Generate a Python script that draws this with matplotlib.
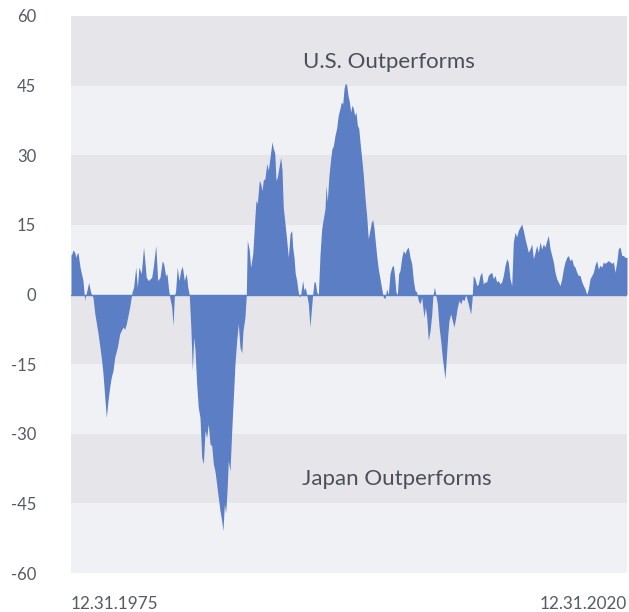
import matplotlib
matplotlib.use("Agg")
import matplotlib.pyplot as plt
import numpy as np

# Years elapsed since 12.31.1975
years_since_start = [
    0.00, 0.08, 0.16, 0.30, 0.40, 0.49, 0.57, 0.73, 0.97, 1.11, 1.16, 1.30, 1.43, 1.59, 1.78, 1.92,
    2.19, 2.45, 2.59, 2.73, 2.86, 2.99, 3.13, 3.26, 3.40, 3.54, 3.75, 3.94, 4.21, 4.35, 4.48, 4.75,
    4.94, 5.07, 5.24, 5.37, 5.50, 5.69, 5.87, 5.95, 6.09, 6.26, 6.53, 6.66, 6.86, 7.02, 7.20, 7.39,
    7.50, 7.66, 7.77, 7.88, 7.99, 8.15, 8.26, 8.36, 8.47, 8.60, 8.74, 8.88, 9.01, 9.17, 9.33, 9.45,
    9.57, 9.71, 9.82, 9.93, 10.04, 10.17, 10.30, 10.44, 10.58, 10.71, 10.85, 10.98, 11.11, 11.25,
    11.39, 11.52, 11.65, 11.79, 11.92, 12.06, 12.20, 12.30, 12.41, 12.52, 12.63, 12.73, 12.87, 13.01,
    13.14, 13.27, 13.41, 13.54, 13.68, 13.82, 13.92, 14.08, 14.19, 14.27, 14.43, 14.54, 14.71, 14.87,
    14.97, 15.08, 15.24, 15.35, 15.46, 15.56, 15.70, 15.84, 15.97, 16.11, 16.27, 16.37, 16.49, 16.59,
    16.70, 16.84, 16.97, 17.08, 17.18, 17.32, 17.46, 17.59, 17.73, 17.86, 17.94, 18.05, 18.15, 18.27,
    18.37, 18.48, 18.59, 18.75, 18.86, 18.96, 19.08, 19.21, 19.34, 19.45, 19.56, 19.67, 19.77, 19.89,
    20.02, 20.15, 20.29, 20.42, 20.56, 20.64, 20.74, 20.88, 21.02, 21.12, 21.23, 21.37, 21.50, 21.63,
    21.77, 21.88, 21.99, 22.10, 22.20, 22.31, 22.42, 22.53, 22.64, 22.74, 22.85, 22.96, 23.07, 23.17,
    23.29, 23.39, 23.53, 23.66, 23.80, 23.93, 24.06, 24.20, 24.31, 24.42, 24.52, 24.63, 24.74, 24.87,
    25.01, 25.15, 25.28, 25.41, 25.55, 25.68, 25.82, 25.96, 26.09, 26.20, 26.30, 26.41, 26.52, 26.63,
    26.77, 26.90, 27.03, 27.17, 27.30, 27.44, 27.58, 27.71, 27.84, 27.98, 28.11, 28.25, 28.39, 28.47,
    28.57, 28.68, 28.79, 28.92, 29.06, 29.20, 29.28, 29.41, 29.52, 29.65, 29.79, 29.92, 30.05, 30.19,
    30.27, 30.38, 30.49, 30.59, 30.73, 30.86, 31.00, 31.14, 31.27, 31.40, 31.54, 31.67, 31.81, 31.95,
    32.08, 32.21, 32.35, 32.46, 32.56, 32.70, 32.84, 32.97, 33.10, 33.24, 33.37, 33.51, 33.64, 33.77,
    33.91, 34.05, 34.18, 34.32, 34.45, 34.58, 34.72, 34.86, 34.99, 35.13, 35.27, 35.39, 35.53, 35.67,
    35.80, 35.94, 36.07, 36.20, 36.34, 36.48, 36.61, 36.75, 36.88, 37.01, 37.15, 37.29, 37.42, 37.56,
    37.69, 37.82, 37.96, 38.10, 38.23, 38.36, 38.50, 38.63, 38.77, 38.91, 39.04, 39.17, 39.31, 39.44,
    39.58, 39.72, 39.85, 39.98, 40.12, 40.25, 40.39, 40.53, 40.66, 40.79, 40.93, 41.06, 41.20, 41.34,
    41.47, 41.60, 41.74, 41.87, 42.01, 42.15, 42.28, 42.41, 42.55, 42.68, 42.82, 42.96, 43.09, 43.22,
    43.36, 43.49, 43.63, 43.77, 43.90, 44.03, 44.17, 44.30, 44.44, 44.58, 44.71, 44.84, 45.00,
]

# Relative performance, U.S. minus Japan (percent)
relative_perf = [
    8.5, 8.8, 9.6, 9.1, 8.0, 8.8, 9.0, 5.9, 3.0, -1.3, -0.5, 1.0, 2.6, 0.5, -0.6, -4.0,
    -8.4, -13.5, -17.0, -22.0, -26.5, -22.9, -20.0, -17.8, -16.4, -13.5, -11.4, -8.5, -7.0, -7.5, -6.3, -2.7,
    0.5, 1.6, 5.9, 1.6, 5.9, 4.5, 10.2, 8.0, 3.7, 3.0, 3.7, 5.9, 10.6, 3.0, 3.7, 7.3,
    6.6, 4.0, 4.5, 1.5, -0.6, -2.7, -6.7, -0.6, 0.9, 5.9, 3.0, 5.2, 6.1, 3.0, 4.5, 1.6,
    0.0, -7.8, -16.4, -9.2, -12.0, -19.2, -24.3, -26.5, -35.1, -36.5, -29.3, -30.8, -27.9, -32.2,
    -32.6, -36.5, -38.0, -40.9, -43.7, -46.6, -48.8, -50.9, -45.2, -47.0, -42.3, -35.8, -38.0, -29.3,
    -22.2, -15.0, -9.9, -6.3, -11.4, -12.6, -7.8, -4.9, 0.0, 11.7, 9.5, 5.9, 8.8, 16.0,
    20.3, 19.6, 24.6, 23.9, 22.4, 24.6, 25.0, 28.2, 26.8, 29.6, 32.9, 31.5, 30.5, 24.6,
    25.3, 27.5, 29.6, 26.8, 18.8, 15.3, 11.7, 8.0, 13.1, 13.8, 10.2, 8.0, 4.5, 3.0,
    0.9, -0.6, 0.0, 3.0, 0.9, 1.5, 0.0, -2.0, -7.0, -3.4, 0.0, 2.7, 2.7, 0.5,
    0.0, 8.4, 14.2, 16.3, 18.5, 23.5, 20.0, 25.7, 29.3, 31.4, 32.0, 34.3, 35.8, 38.6,
    40.1, 41.5, 41.0, 44.4, 45.5, 45.2, 42.9, 41.5, 39.3, 40.8, 40.1, 38.6, 39.3, 36.5,
    35.8, 32.9, 29.3, 25.7, 20.7, 17.0, 12.0, 14.0, 15.6, 16.1, 14.4, 11.3, 8.4, 5.5,
    3.4, 1.2, -0.6, -0.9, 1.2, 0.0, 4.5, 5.9, 6.3, 3.7, 0.5, 0.0, 4.5, 5.2,
    8.0, 9.5, 8.8, 9.8, 10.2, 8.0, 6.6, 3.0, 0.9, 0.5, -1.3, -2.0, -0.6, -2.7,
    -4.9, -2.7, -4.9, -9.9, -7.8, -4.2, -0.6, 1.6, 0.0, -2.0, -7.0, -9.9, -13.5, -16.4,
    -18.2, -13.5, -8.9, -5.6, -4.2, -5.6, -7.0, -4.9, -2.7, -1.3, -2.0, -1.0, -1.3, 0.0,
    -1.3, -2.7, -4.2, -1.0, 4.1, 3.4, 1.9, 2.3, 4.1, 4.8, 2.3, 2.7, 2.7, 4.1,
    4.5, 4.8, 3.4, 4.1, 2.7, 3.0, 2.3, 2.7, 4.1, 6.3, 7.7, 7.0, 3.4, 1.9,
    11.3, 13.4, 12.4, 13.8, 14.5, 15.2, 13.8, 12.0, 10.6, 9.1, 9.8, 10.9, 7.7, 9.1,
    10.6, 9.1, 11.3, 9.8, 10.9, 10.2, 11.6, 12.7, 9.9, 8.4, 7.0, 4.8, 3.4, 2.7,
    1.9, 3.4, 5.5, 7.0, 8.0, 8.4, 7.3, 7.7, 6.3, 5.9, 4.8, 4.1, 4.1, 2.7,
    1.9, 1.2, 0.0, 1.2, 3.4, 4.1, 4.8, 6.3, 7.3, 5.5, 6.3, 5.9, 7.0, 6.7,
    7.0, 7.3, 7.0, 6.7, 7.0, 4.8, 7.0, 9.9, 10.2, 8.4, 8.4, 8.0, 8.0,
]

start_year = 1975.9973  # 12.31.1975
y_ticks = [60, 45, 30, 15, 0, -15, -30, -45, -60]
x_labels = ["12.31.1975", "12.31.2020"]
label_top = "U.S. Outperforms"
label_bottom = "Japan Outperforms"

x = start_year + np.array(years_since_start)
y = np.array(relative_perf)

plt.rcParams['font.family'] = ['Lato', 'DejaVu Sans']

fig = plt.figure(figsize=(6.29, 6.12), dpi=100)
ax = fig.add_axes([71/629, 39/612, 556/629, 557/612])

band_dark = '#e6e6ea'
band_light = '#f0f1f4'
bounds = sorted(y_ticks)
for i in range(len(bounds) - 1):
    lo, hi = bounds[i], bounds[i + 1]
    idx_from_top = (60 - hi) // 15
    col = band_dark if idx_from_top % 2 == 0 else band_light
    ax.axhspan(lo, hi, color=col, linewidth=0, zorder=0)

fill_color = '#5b7ec4'
ax.fill_between(x, 0, y, color=fill_color, linewidth=0, zorder=2)
ax.axhline(0, color=fill_color, linewidth=1.0, zorder=2)

ax.set_xlim(x[0], x[-1])
ax.set_ylim(-60, 60)
ax.set_yticks(y_ticks)
ax.set_yticklabels([str(v) for v in y_ticks])
ax.tick_params(axis='y', length=0, pad=25, labelsize=12, labelcolor='#555a63')
ax.set_xticks([])
for s in ax.spines.values():
    s.set_visible(False)

text_color = '#4a4f59'
ax.text(0, -0.055, x_labels[0], transform=ax.transAxes, ha='left', va='center',
        fontsize=12.3, color='#555a63')
ax.text(1, -0.055, x_labels[1], transform=ax.transAxes, ha='right', va='center',
        fontsize=12.3, color='#555a63')

ax.text(start_year + 25.74, 50.1, label_top, ha='center', va='center', fontsize=16, color=text_color, zorder=3)
ax.text(start_year + 26.4, -39.7, label_bottom, ha='center', va='center', fontsize=16, color=text_color, zorder=3)

fig.savefig('out.png', dpi=100, facecolor='white')
